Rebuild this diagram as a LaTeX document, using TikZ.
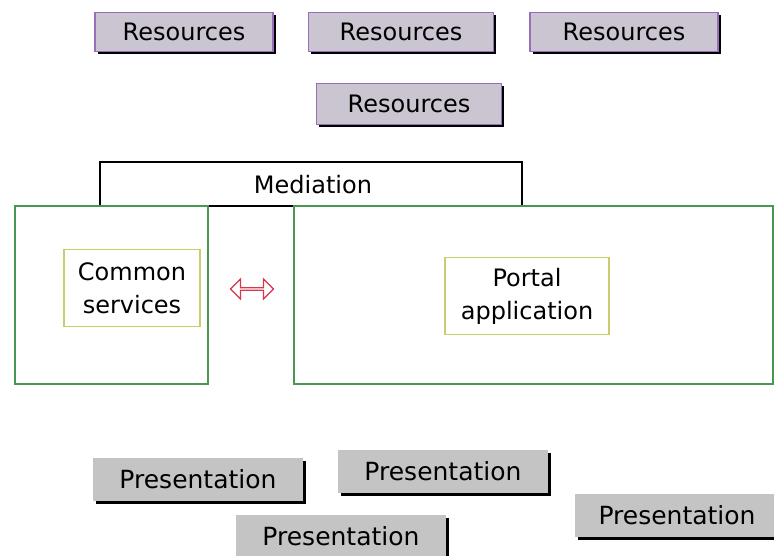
\documentclass[tikz,border=0pt]{standalone}
\usepackage{fontspec}
\setmainfont{DejaVu Sans}
\usetikzlibrary{shapes.arrows,shadows}
\definecolor{resfill}{RGB}{202,197,208}
\definecolor{resline}{RGB}{150,110,185}
\definecolor{presfill}{RGB}{196,196,196}
\definecolor{boxgreen}{RGB}{75,150,80}
\definecolor{innerline}{RGB}{200,205,110}
\definecolor{arrowred}{RGB}{215,55,75}
\tikzset{>=latex}
\tikzset{
	resbox/.style={draw=resline, fill=resfill, line width=1.5pt, inner sep=0pt,
		minimum height=39pt, font=\fontsize{24}{28}\selectfont,
		general shadow={fill=black, shadow xshift=2.5pt, shadow yshift=-2.5pt}},
	presbox/.style={fill=presfill, inner sep=0pt, minimum width=210pt,
		minimum height=43pt, font=\fontsize{25}{28}\selectfont,
		general shadow={fill=black, shadow xshift=3pt, shadow yshift=-3pt}},
	layerbox/.style={draw=boxgreen, line width=1.6pt},
	innerbox/.style={draw=innerline, line width=1.6pt, fill=white, inner sep=0pt,
		align=center, font=\fontsize{24}{33}\selectfont},
	label/.style={font=\fontsize{24}{28}\selectfont}
}
\begin{document}
\begin{tikzpicture}[x=1pt,y=-1pt]
	\clip (0,0) rectangle (774,556);
	\fill[white] (0,0) rectangle (774,556);
	% resources
	\node[resbox, minimum width=178pt] (res1) at (184,32) {Resources};
	\node[resbox, minimum width=185pt] (res2) at (401,32) {Resources};
	\node[resbox, minimum width=188pt] (res3) at (624,32) {Resources};
	\node[resbox, minimum width=185pt, minimum height=41pt] (res4) at (409,104) {Resources};
	% mediation layer
	\draw[line width=1.6pt] (100,206) rectangle (522,162);
	\node[label] (mediation) at (313,185) {Mediation};
	\draw[layerbox] (15,206) rectangle (208,384);
	\draw[layerbox] (294,206) rectangle (773,384);
	\node[innerbox, minimum width=136pt, minimum height=77pt] (common) at (132,288) {Common\\services};
	\node[innerbox, minimum width=164pt, minimum height=77pt] (portal) at (527,296) {Portal\\application};
	\node[double arrow, draw=arrowred, fill=white, line width=1.2pt, minimum width=20pt,
		double arrow head extend=4.5pt, minimum height=43pt, inner sep=0pt] (link) at (252,289) {};
	% presentation
	\node[presbox] (pres1) at (198,479) {Presentation};
	\node[presbox] (pres2) at (443,471) {Presentation};
	\node[presbox] (pres3) at (341,536) {Presentation};
	\node[presbox, minimum width=204pt] (pres4) at (677,515) {Presentation};
\end{tikzpicture}
\end{document}
